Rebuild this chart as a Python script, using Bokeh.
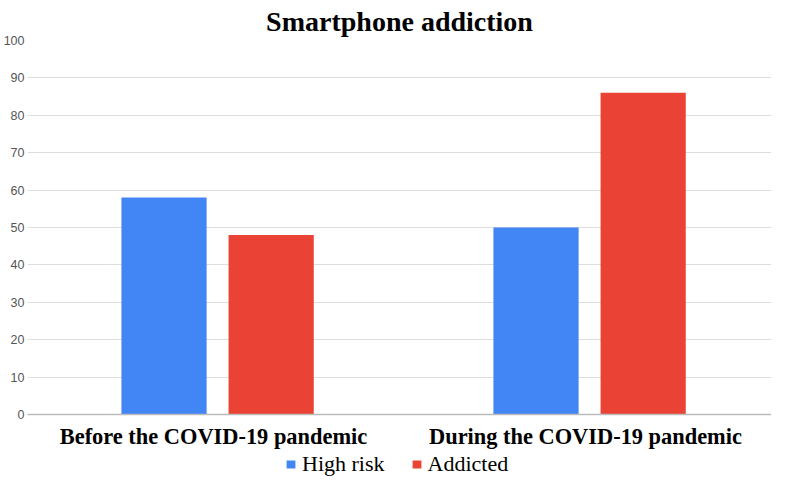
from bokeh.plotting import figure
from bokeh.models import FactorRange, Legend, LegendItem, ColumnDataSource, Range1d
from bokeh.layouts import column
from bokeh.transform import dodge
from bokeh.embed import file_html
from bokeh.resources import INLINE

categories = ["Before the COVID-19 pandemic", "During the COVID-19 pandemic"]
high_risk = [58, 50]
addicted = [48, 86]
series_names = ["High risk", "Addicted"]
colors = ["#4285F4", "#EA4335"]
y_ticks = list(range(0, 101, 10))

src = ColumnDataSource(dict(cat=categories, high=high_risk, add=addicted))

p = figure(x_range=FactorRange(factors=categories), y_range=Range1d(0, 100),
           width=771, height=451, output_backend="svg", toolbar_location=None,
           title="Smartphone addiction", min_border_left=0, min_border_right=0,
           min_border_top=0, min_border_bottom=0)
p.x_range.range_padding = 0
p.title.align = "center"
p.title.text_font = "Liberation Serif"
p.title.text_font_size = "28px"
p.title.text_font_style = "bold"
p.title.text_color = "#000000"
p.title.offset = 0
p.title.standoff = 7

r1 = p.vbar(x=dodge("cat", -0.133, range=p.x_range), top="high", width=0.229,
            source=src, color=colors[0], line_color=None)
r2 = p.vbar(x=dodge("cat", 0.155, range=p.x_range), top="add", width=0.229,
            source=src, color=colors[1], line_color=None)

p.yaxis.ticker = y_ticks
p.yaxis.axis_line_color = None
p.yaxis.major_tick_line_color = None
p.yaxis.minor_tick_line_color = None
p.yaxis.major_tick_out = 0
p.yaxis.major_tick_in = 0
p.yaxis.major_label_text_font = "Liberation Sans"
p.yaxis.major_label_text_font_size = "12.5px"
p.yaxis.major_label_text_color = "#555555"
p.yaxis.major_label_standoff = 3

p.xaxis.axis_line_color = "#bbbbbb"
p.xaxis.axis_line_width = 1.5
p.xaxis.major_tick_line_color = None
p.xaxis.minor_tick_line_color = None
p.xaxis.major_tick_out = 0
p.xaxis.major_tick_in = 0
p.xaxis.major_label_text_font = "Liberation Serif"
p.xaxis.major_label_text_font_size = "22.4px"
p.xaxis.major_label_text_font_style = "bold"
p.xaxis.major_label_text_color = "#000000"
p.xaxis.major_label_standoff = 9

p.xgrid.grid_line_color = None
p.ygrid.grid_line_color = "#dddddd"
p.ygrid.grid_line_width = 1.2
p.outline_line_color = None

# legend strip below the chart (bars fall outside its visible y range)
lp = figure(width=771, height=25, x_range=FactorRange(factors=categories),
            y_range=Range1d(200, 300), output_backend="svg", toolbar_location=None,
            min_border_left=0, min_border_right=0, min_border_top=0, min_border_bottom=0)
lp.axis.visible = False
lp.grid.visible = False
lp.outline_line_color = None
l1 = lp.vbar(x="cat", top="high", width=0.2, source=src, color=colors[0], line_color=None)
l2 = lp.vbar(x="cat", top="add", width=0.2, source=src, color=colors[1], line_color=None)
legend = Legend(items=[LegendItem(label=series_names[0], renderers=[l1]),
                       LegendItem(label=series_names[1], renderers=[l2])],
                orientation="horizontal", location=(258, -1),
                label_text_font="Liberation Serif", label_text_font_size="22px",
                label_text_color="#000000", glyph_width=11, glyph_height=10,
                label_standoff=6, spacing=26, padding=0, margin=0,
                border_line_color=None, background_fill_alpha=0)
lp.add_layout(legend, "center")

open("out.html", "w").write(file_html(column(p, lp, spacing=0), INLINE))
